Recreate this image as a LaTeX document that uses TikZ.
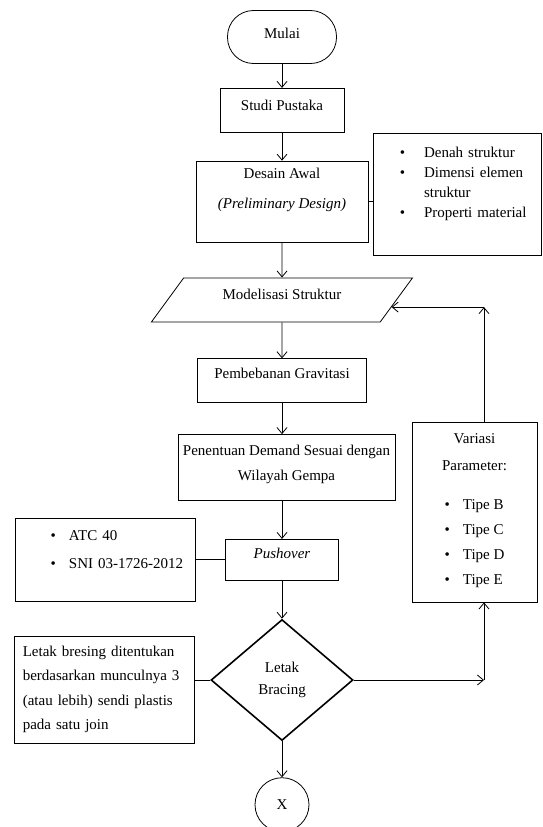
\documentclass[tikz,border=0pt]{standalone}
\usepackage{fontspec}
\setmainfont{Liberation Serif}
\usetikzlibrary{positioning, arrows.meta, shapes.geometric, calc}

\begin{document}
\begin{tikzpicture}[
        x=1pt, y=1pt,
        base/.style={draw, line width=0.8pt, font=\fontsize{15}{18}\selectfont, align=center, inner sep=3pt},
        process/.style={base, rectangle},
        terminal/.style={base, rounded corners=26pt, minimum width=109pt, minimum height=53pt},
        io/.style={base, trapezium, trapezium left angle=41, trapezium right angle=139, trapezium stretches body, minimum width=261pt, minimum height=44pt},
        decision/.style={base, diamond, line width=1.6pt, aspect=1.17, minimum width=142pt, minimum height=121pt},
        connector/.style={base, circle, minimum size=54pt},
        lift/.style={text height=11pt, text depth=#1},
        flow/.style={-{Straight Barb[length=6pt, width=10pt]}, line width=0.8pt},
        link/.style={-, line width=0.8pt}
    ]
    \useasboundingbox (0,0) rectangle (543,-827);

    % Main column
    \node[terminal, lift=9pt] (mulai) at (282,-37) {Mulai};
    \node[process, lift=11pt, minimum width=124pt, minimum height=44pt, below=24pt of mulai] (studi) {Studi Pustaka};
    \node[process, text height=41pt, text depth=28pt, minimum width=172pt, minimum height=81pt, below=28pt of studi] (desain) {Desain Awal\\[12pt]\textit{(Preliminary Design)}};
    \node[io, lift=11pt, below=35pt of desain] (model) {Modelisasi Struktur};
    \node[process, lift=15pt, minimum width=169pt, minimum height=44pt, below=36pt of model] (grav) {Pembebanan Gravitasi};
    \node[process, text height=36pt, text depth=10pt, minimum width=217pt, minimum height=66pt, below=31pt of grav, xshift=4.5pt] (demand) {Penentuan Demand Sesuai dengan\\[7pt]Wilayah Gempa};
    \node[process, lift=14pt, minimum width=113pt, minimum height=41pt, below=38pt of demand, xshift=-4.5pt] (push) {\textit{Pushover}};
    \node[decision, below=38pt of push] (decide) {Letak\\[4pt]Bracing};
    \node[connector, below=36pt of decide] (endX) {X};

    % Side boxes
    \node[process, lift=85pt, minimum width=168pt, minimum height=122pt, text width=162pt, align=left, right=5pt of desain, yshift=7.5pt] (info)
        {\hspace*{23pt}\begin{tabular}[t]{@{}l@{\hspace{19pt}}l@{}}
            \textbullet & Denah struktur\\[2pt]
            \textbullet & Dimensi elemen\\[2pt]
                        & struktur\\[2pt]
            \textbullet & Properti material
        \end{tabular}};
    \node[process, lift=50pt, minimum width=180pt, minimum height=83pt, text width=174pt, align=left, left=29pt of push] (atc)
        {\hspace*{32pt}\begin{tabular}[t]{@{}l@{\hspace{13pt}}l@{}}
            \textbullet & ATC 40\\[10pt]
            \textbullet & SNI 03-1726-2012
        \end{tabular}};
    \node[process, font=\fontsize{15}{24.3}\selectfont, minimum width=180pt, minimum height=107pt, text width=164pt, inner xsep=8pt, align=left, left=15pt of decide, yshift=-9.5pt] (bresing)
        {Letak bresing ditentukan\\berdasarkan munculnya 3\\(atau lebih) sendi plastis\\pada satu join};
    \node[process, minimum width=125pt, minimum height=180pt] (vari) at (474.5,-512)
        {Variasi\\[9pt]Parameter:\\[21pt]\begin{tabular}[t]{@{}l@{\hspace{13pt}}l@{}}
            \textbullet & Tipe B\\[7pt]
            \textbullet & Tipe C\\[7pt]
            \textbullet & Tipe D\\[7pt]
            \textbullet & Tipe E
        \end{tabular}};

    % Main flow
    \draw[flow] (mulai) -- (studi);
    \draw[flow] (studi) -- (desain);
    \draw[flow] (desain) -- (model);
    \draw[flow] (model) -- (grav);
    \draw[flow] (grav) -- (grav |- demand.north);
    \draw[flow] (push |- demand.south) -- (push);
    \draw[flow] (push) -- (decide);
    \draw[flow] (decide) -- (endX);

    % Side links
    \draw[link] (desain.east) -- (desain.east -| info.west);
    \draw[link] (atc) -- (push);
    \draw[link] (decide.west -| bresing.east) -- (decide.west);

    % Loop back
    \coordinate (turnLow) at ([xshift=9.5pt]vari.south |- decide.east);
    \coordinate (entry) at ($(model.top right corner)!0.66!(model.bottom right corner)$);
    \coordinate (turnHigh) at (turnLow |- entry);
    \draw[flow] (decide.east) -- (turnLow);
    \draw[flow] (turnLow) -- (turnLow |- vari.south);
    \draw[flow] (turnLow |- vari.north) -- (turnHigh);
    \draw[flow] (turnHigh) -- (entry);

\end{tikzpicture}
\end{document}
